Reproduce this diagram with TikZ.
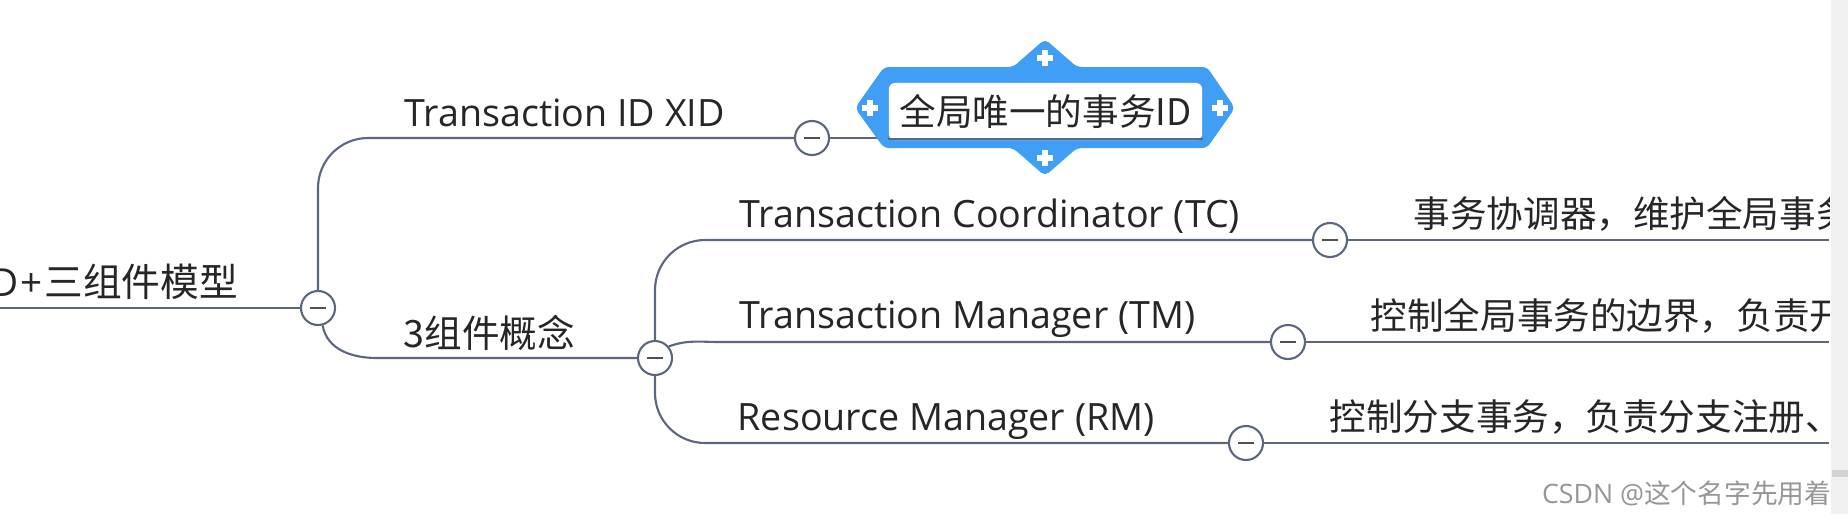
\documentclass[tikz,border=0pt]{standalone}
\usepackage{fontspec}
\setmainfont{Open Sans}
\newfontfamily\cjk{Noto Sans CJK SC}
\usetikzlibrary{positioning, backgrounds}
\definecolor{linec}{RGB}{92,102,125}
\definecolor{notec}{HTML}{409EF5}
\definecolor{textc}{RGB}{38,38,38}
\definecolor{markc}{RGB}{150,150,150}
\definecolor{stripc}{RGB}{240,240,240}

\begin{document}
\begin{tikzpicture}[
    x=0.01cm, y=-0.01cm,
    topic/.style={inner sep=0pt, text=textc, font=\fontsize{10.7}{12}\selectfont},
    roottopic/.style={topic, font=\fontsize{11}{13}\selectfont},
    desc/.style={topic, font=\fontsize{10.4}{12}\selectfont\cjk},
    fold/.style={circle, draw=linec, fill=white, line width=0.6pt, minimum size=0.34cm, inner sep=0pt,
        path picture={\draw[textc!80, line width=0.7pt] ([xshift=-0.08cm]path picture bounding box.center) -- ([xshift=0.08cm]path picture bounding box.center);}},
    branch/.style={draw=linec, line width=0.6pt},
    xidbox/.style={fill=white, rounded corners=0.06cm, minimum width=3.13cm, minimum height=0.57cm, inner sep=0pt, text=textc, font=\fontsize{10.4}{12}\selectfont\cjk}
]
\useasboundingbox (0,0) rectangle (1848,514);

% window strip on the right
\fill[stripc] (1831,0) rectangle (1848,514);
\fill[gray!35] (1832,470) rectangle (1848,477);

\begin{scope}
\clip (0,0) rectangle (1829,514);

% fold circles
\foreach \n/\x/\y in {f0/318/308, f1/812/138, f2/655/358, f3/1330/240, f4/1288/342, f5/1246/443} {
    \node[fold] (\n) at (\x,\y) {};
}

% topic labels
\node[roottopic, anchor=base west] (roottxt) at (-10,296) {D\kern0.5pt+\kern0.5pt{\cjk 三组件模型}};
\node[topic, anchor=base west] (xidtxt) at (404,126) {Transaction ID XID};
\node[topic, anchor=base west] (comptxt) at (403,347) {\cjk 3组件概念};
\node[topic, anchor=base west] (tctxt) at (739,227) {Transaction Coordinator (TC)};
\node[topic, anchor=base west] (tmtxt) at (739,328) {Transaction Manager (TM)};
\node[topic, anchor=base west] (rmtxt) at (737,430) {Resource Manager (RM)};

% descriptions (cut by the window edge)
\node[desc, anchor=base west] (tcnote) at (1413,227) {事务协调器，维护全局事务};
\node[desc, anchor=base west] (tmnote) at (1370,329) {控制全局事务的边界，负责开};
\node[desc, anchor=base west] (rmnote) at (1329,430) {控制分支事务，负责分支注册、};

% highlighted topic
\node[xidbox] (xidnote) at (1045.5,111.5) {全局唯一的事务ID};
\begin{scope}[on background layer]
    \draw[branch] (f1.east) -- (f1.east -| xidnote.east);
    \fill[notec, rounded corners=0.05cm] (884,67) -- (1013,67) -- (1045,39) -- (1077,67) -- (1207,67) -- (1235,108)
        -- (1207,148) -- (1077,148) -- (1045,176) -- (1013,148) -- (884,148) -- (855,108) -- cycle;
\end{scope}
\draw[branch] ([yshift=0.02cm]xidnote.south west) -- ([yshift=0.02cm]xidnote.south east);
\foreach \x/\y in {1045/58, 1045/158, 870/108, 1220/108} {
    \draw[white, line width=1.7pt] (\x-8,\y) -- (\x+8,\y) (\x,\y-8) -- (\x,\y+8);
}

% connectors
\coordinate (rootstart) at (0,308);
\coordinate (compbend) at (377,358);
\coordinate (tmbend) at (720,342);
\coordinate (rend) at (1829,0);
\draw[branch] (rootstart) -- (f0.west);
\draw[branch, rounded corners=0.5cm] (f0.north) |- (f1.west);
\draw[branch] (f0.-75) to[out=-80, in=180] (compbend) -- (f2.west);
\draw[branch, rounded corners=0.5cm] (f2.north) |- (f3.west);
\draw[branch] (f2.40) to[out=20, in=180] (tmbend) -- (f4.west);
\draw[branch, rounded corners=0.5cm] (f2.south) |- (f5.west);
\draw[branch] (f3.east) -- (f3.east -| rend);
\draw[branch] (f4.east) -- (f4.east -| rend);
\draw[branch] (f5.east) -- (f5.east -| rend);
\end{scope}

% watermark
\node[anchor=base east, inner sep=0pt, text=markc, font=\fontsize{7.6}{9}\selectfont] (mark) at (1832,503) {CSDN @{\cjk 这个名字先用着}};

\end{tikzpicture}
\end{document}
